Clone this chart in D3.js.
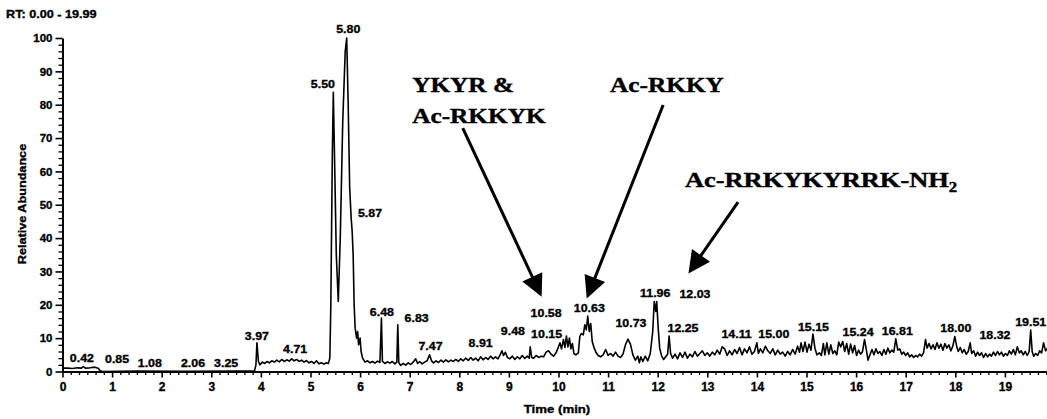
<!DOCTYPE html>
<html>
<head>
<meta charset="utf-8">
<script src="https://cdn.jsdelivr.net/npm/d3@7"></script>
<style>
  body { margin: 0; background: #fff; }
  svg { display: block; }
  .sans { font-family: "Liberation Sans", Arial, sans-serif; font-weight: bold; stroke: #000; stroke-width: 0.35px; }
  .serif { font-family: "Liberation Serif", "Times New Roman", serif; font-weight: bold; stroke: #000; stroke-width: 0.4px; }
</style>
</head>
<body>
<script>
// chromatogram trace: [time (min), relative abundance %]
const trace = [
  [0,1.0],[0.1,1.0],[0.2,0.9],[0.3,1.1],[0.38,1.0],[0.42,1.5],[0.46,1.0],[0.55,1.1],[0.65,1.3],[0.72,1.0],[0.76,0.2],[0.8,0],
  [1.5,0.1],[2.5,0.05],[3.5,0.1],[3.87,0.1],[3.9,2.0],[3.92,8.6],[3.95,3.0],[3.98,2.0],[4.03,2.8],[4.08,2.4],[4.12,3.0],
  [4.17,2.6],[4.22,3.2],[4.27,2.8],[4.32,3.4],[4.37,2.9],[4.42,3.6],[4.47,3.0],[4.52,3.5],[4.57,3.1],[4.62,3.8],[4.67,3.2],
  [4.72,3.6],[4.77,3.0],[4.82,3.4],[4.87,2.8],[4.92,3.3],[4.97,2.6],[5.02,3.0],[5.07,2.4],[5.12,3.2],[5.17,2.3],[5.22,2.6],
  [5.27,2.2],[5.32,2.6],[5.36,2.4],
  [5.39,4],[5.41,20],[5.44,65],[5.46,83.7],[5.49,60],[5.52,35],[5.56,21],[5.60,40],[5.65,75],[5.70,96],[5.73,100],[5.76,80],
  [5.79,55],[5.82,46],[5.84,42],[5.86,35],[5.88,20],[5.90,13],[5.93,10],[5.95,12],[5.97,8],[6.0,10],[6.02,6],[6.05,4],
  [6.10,2.8],[6.15,3.2],[6.20,2.6],[6.25,3.0],[6.30,2.5],[6.35,3.1],[6.40,2.7],[6.43,16.0],[6.45,3.0],[6.50,2.4],[6.55,2.9],
  [6.60,2.5],[6.65,3.0],[6.70,2.3],[6.74,2.8],[6.76,14.0],[6.78,2.6],[6.82,1.8],[6.87,2.4],[6.92,1.9],[6.97,2.6],[7.02,2.1],
  [7.07,2.8],[7.12,3.8],[7.16,2.4],[7.20,3.0],[7.25,2.3],[7.30,2.8],[7.35,3.2],[7.40,5.0],[7.44,3.2],[7.48,2.6],[7.53,3.2],
  [7.58,2.7],[7.63,3.4],[7.68,2.8],[7.73,3.5],[7.78,2.9],[7.83,3.4],[7.88,3.0],[7.93,3.6],[7.98,3.0],[8.03,3.8],[8.08,3.2],
  [8.13,4.0],[8.18,3.3],[8.23,4.2],[8.28,3.4],[8.33,4.0],[8.38,3.2],[8.43,4.4],[8.48,3.5],[8.53,4.2],[8.58,3.6],[8.63,4.6],
  [8.68,3.8],[8.73,4.4],[8.78,3.8],[8.83,5.2],[8.86,6.2],[8.89,4.8],[8.93,5.8],[8.97,4.2],[9.02,3.8],[9.07,4.6],[9.12,3.6],
  [9.17,4.4],[9.22,3.8],[9.27,4.8],[9.32,3.9],[9.37,4.6],[9.41,4.0],[9.43,7.4],[9.46,4.2],[9.50,4.0],[9.55,4.8],[9.60,4.2],
  [9.65,4.6],[9.70,4.4],[9.75,5.8],[9.80,6.2],[9.85,5.2],[9.90,4.6],[9.95,5.6],[10.00,7.4],[10.03,8.6],[10.06,6.8],[10.10,9.6],
  [10.13,7.2],[10.16,10.6],[10.19,7.4],[10.22,10.0],[10.25,6.8],[10.28,8.4],[10.31,5.4],[10.35,5.0],[10.40,5.6],[10.43,10.5],
  [10.46,11.4],[10.50,11.0],[10.53,14.0],[10.56,12.5],[10.59,16.6],[10.62,12.0],[10.65,14.4],[10.68,9.0],[10.72,7.0],
  [10.76,5.6],[10.80,4.8],[10.85,4.4],[10.90,5.0],[10.95,6.6],[11.00,4.8],[11.05,5.4],[11.10,4.6],[11.15,5.8],[11.20,4.6],
  [11.25,4.2],[11.30,5.2],[11.35,8.0],[11.40,9.7],[11.45,8.2],[11.50,5.0],[11.55,3.4],[11.60,4.6],[11.63,2.6],[11.66,4.4],
  [11.70,3.0],[11.75,4.6],[11.80,3.2],[11.85,5.4],[11.90,12.0],[11.93,21.0],[11.96,18.0],[11.98,21.0],[12.01,13.0],
  [12.04,7.0],[12.08,4.6],[12.12,3.6],[12.16,4.4],[12.20,5.2],[12.23,10.6],[12.26,5.4],
  [12.30,4.0],[12.35,5.2],[12.40,3.8],[12.45,5.6],[12.50,4.2],[12.55,5.8],[12.60,4.0],[12.65,5.2],[12.70,4.4],[12.75,6.0],
  [12.80,4.6],[12.85,5.4],[12.90,6.2],[12.95,4.8],[13.00,5.6],[13.05,4.6],[13.10,5.8],[13.15,5.0],[13.20,6.4],[13.25,5.2],
  [13.30,7.4],[13.35,6.8],[13.40,4.8],[13.45,6.2],[13.50,5.0],[13.55,6.6],[13.60,5.4],[13.65,7.2],[13.70,5.0],[13.75,6.8],
  [13.80,5.6],[13.85,7.4],[13.90,5.2],[13.95,6.0],[14.00,8.6],[14.03,5.4],[14.07,6.8],[14.12,5.6],[14.17,7.6],[14.22,6.2],
  [14.27,5.4],[14.32,6.8],[14.37,5.0],[14.42,6.4],[14.47,5.2],[14.52,5.8],[14.57,4.6],[14.62,6.0],[14.67,5.0],[14.72,6.6],
  [14.77,5.2],[14.82,7.6],[14.86,5.8],[14.89,8.6],[14.93,6.0],[14.97,8.8],[15.01,5.8],[15.05,8.2],[15.09,6.4],[15.13,11.2],
  [15.17,7.0],[15.21,5.0],[15.26,5.6],[15.30,4.8],[15.34,8.4],[15.37,5.0],[15.41,8.6],[15.45,5.2],[15.49,8.0],[15.53,5.4],
  [15.57,6.2],[15.61,5.0],[15.65,8.8],[15.69,7.4],[15.73,9.0],[15.77,6.0],[15.81,8.4],[15.85,5.2],[15.89,8.2],[15.93,5.6],
  [15.97,7.8],[16.01,4.8],[16.05,6.4],[16.09,5.2],[16.13,6.0],[16.17,9.6],[16.21,6.2],[16.24,3.4],[16.28,5.0],[16.32,6.6],
  [16.36,5.0],[16.40,6.8],[16.44,5.4],[16.48,6.0],[16.52,4.8],[16.56,6.6],[16.60,5.2],[16.64,7.0],[16.68,5.6],[16.72,6.4],
  [16.76,5.8],[16.80,9.8],[16.84,6.4],[16.88,6.8],[16.92,5.2],[16.96,5.8],[17.00,4.8],[17.04,5.6],[17.08,4.4],[17.12,5.0],
  [17.16,4.2],[17.20,4.8],[17.24,4.4],[17.28,5.2],[17.32,4.6],[17.36,5.6],[17.40,9.6],[17.43,7.0],[17.47,8.4],[17.51,6.8],
  [17.55,8.0],[17.59,6.6],[17.63,8.6],[17.67,7.0],[17.71,8.2],[17.75,6.4],[17.79,8.4],[17.83,7.0],[17.87,8.0],[17.91,6.2],
  [17.95,7.6],[17.99,10.5],[18.03,7.4],[18.06,6.0],[18.10,7.2],[18.14,5.6],[18.18,6.6],[18.22,5.2],[18.26,6.0],[18.30,8.6],
  [18.33,5.4],[18.37,6.2],[18.41,4.6],[18.45,5.8],[18.49,4.8],[18.53,5.6],[18.57,4.2],[18.61,5.4],[18.65,4.4],[18.69,5.2],
  [18.73,4.6],[18.77,5.8],[18.81,4.8],[18.85,6.0],[18.89,5.0],[18.93,5.8],[18.97,4.6],[19.01,5.4],[19.05,4.8],[19.09,6.2],
  [19.13,5.2],[19.17,6.6],[19.21,5.0],[19.25,7.4],[19.29,5.6],[19.33,6.2],[19.37,5.0],[19.41,6.0],[19.45,4.8],[19.49,6.0],
  [19.52,12.4],[19.55,6.0],[19.58,4.6],[19.62,5.4],[19.66,4.8],[19.70,6.2],[19.74,5.6],[19.78,8.6],[19.82,6.2],[19.86,7.0],
  [19.90,5.4],[19.95,6.4],[19.99,5.8]
];

// peak labels: text, where the label sits (min, %)
const peakText = ['0.42','0.85','1.08','2.06','3.25','3.97','4.71','5.50','5.80','5.87','6.48','6.83','7.47','8.91','9.48',
  '10.15','10.58','10.63','10.73','11.96','12.03','12.25','14.11','15.00','15.15','15.24','16.81','18.00','18.32','19.51'];
const peakRt = [0.39,1.10,1.76,2.63,3.30,3.92,4.69,5.25,5.76,6.20,6.44,7.14,7.42,8.43,9.08,
  9.76,9.75,10.62,11.46,11.95,12.75,12.51,13.59,14.34,15.14,16.04,16.83,18.01,18.80,19.52];
const peakPct = [2.9,2.5,1.4,1.4,1.4,9.4,5.5,85,101.5,46.4,16.6,14.9,6.4,7.4,10.9,
  10.0,16.4,17.9,13.2,22.2,21.9,11.9,10.0,10.0,12.2,10.6,10.9,11.9,9.7,13.6];

// axis ticks
const xTickLabels = [0,1,2,3,4,5,6,7,8,9,10,11,12,13,14,15,16,17,18,19];
const yTickLabels = [0,10,20,30,40,50,60,70,80,90,100];

// compound annotations and their arrows (min, %)
const noteText = ['YKYR &', 'Ac-RKKYK', 'Ac-RKKY', 'Ac-RRKYKYRRK-NH'];
const noteRt = [7.05, 7.05, 11.04, 12.55];
const notePct = [83.8, 74.6, 83.8, 55.3];
const arrowFrom = [[8.07,73.0],[12.11,79.9],[13.62,50.8]];
const arrowTo = [[9.66,22.4],[10.57,21.9],[12.62,29.4]];

const W = 1047, H = 419;
const svg = d3.select('body').append('svg').attr('width', W).attr('height', H);

const x = d3.scaleLinear().domain([0, 20]).range([62.5, 1054.5]);
const y = d3.scaleLinear().domain([0, 100]).range([371.5, 38]);

// trace
svg.append('path')
  .datum(trace)
  .attr('fill', 'none')
  .attr('stroke', '#000')
  .attr('stroke-width', 1.6)
  .attr('stroke-linejoin', 'round')
  .attr('d', d3.line().x(d => x(d[0])).y(d => y(d[1])));

// x axis
const xMinor = d3.range(0, 120).map(i => i / 6).filter(v => v % 1 !== 0);
svg.append('g').attr('transform', `translate(0,${y(0)})`)
  .call(d3.axisBottom(x).tickValues(xMinor).tickSize(3.5).tickSizeOuter(0).tickFormat(''))
  .call(g => g.selectAll('line,path').attr('stroke', '#000').attr('stroke-width', 1.3));
const xAxisG = svg.append('g').attr('transform', `translate(0,${y(0)})`)
  .call(d3.axisBottom(x).tickValues(xTickLabels).tickSize(6).tickSizeOuter(0).tickPadding(5).tickFormat(d3.format('d')));
xAxisG.select('.domain').attr('stroke', '#000').attr('stroke-width', 2);
xAxisG.selectAll('.tick line').attr('stroke', '#000').attr('stroke-width', 1.6);
xAxisG.selectAll('text').attr('class', 'sans').attr('font-size', 12).attr('fill', '#000');

// y axis
const yMinor = d3.range(0, 101, 2).filter(v => v % 10 !== 0);
svg.append('g').attr('transform', `translate(${x(0)},0)`)
  .call(d3.axisLeft(y).tickValues(yMinor).tickSize(4).tickSizeOuter(0).tickFormat(''))
  .call(g => g.selectAll('line').attr('stroke', '#000').attr('stroke-width', 1.3))
  .call(g => g.select('.domain').remove());
const yAxisG = svg.append('g').attr('transform', `translate(${x(0)},0)`)
  .call(d3.axisLeft(y).tickValues(yTickLabels).tickSize(7).tickSizeOuter(0).tickPadding(3));
yAxisG.select('.domain').attr('stroke', '#000').attr('stroke-width', 2);
yAxisG.selectAll('.tick line').attr('stroke', '#000').attr('stroke-width', 1.6);
yAxisG.selectAll('text').attr('class', 'sans').attr('font-size', 11.5).attr('fill', '#000');

// titles
svg.append('text').attr('class', 'sans').attr('font-size', 11)
  .attr('transform', 'translate(6,18) scale(1.15,1)').text('RT: 0.00 - 19.99');
svg.append('text').attr('class', 'sans').attr('font-size', 11).attr('text-anchor', 'middle')
  .attr('transform', 'translate(26,204) rotate(-90) scale(1.15,1)').text('Relative Abundance');
svg.append('text').attr('class', 'sans').attr('font-size', 11.5).attr('text-anchor', 'middle')
  .attr('transform', 'translate(557,413) scale(1.15,1)').text('Time (min)');

// peak labels
svg.append('g').selectAll('text').data(peakText).enter()
  .append('text')
  .attr('class', 'sans')
  .attr('font-size', 11.5)
  .attr('text-anchor', 'middle')
  .attr('transform', (d, i) => `translate(${x(peakRt[i])},${y(peakPct[i])}) scale(1.08,1)`)
  .text(d => d);

// annotations
const notes = svg.append('g').selectAll('text').data(noteText).enter()
  .append('text')
  .attr('class', 'serif')
  .attr('font-size', 22)
  .attr('transform', (d, i) => `translate(${x(noteRt[i])},${y(notePct[i])}) scale(${i === 3 ? 1.2 : 1.15},1)`)
  .text(d => d);
notes.filter((d, i) => i === 3).append('tspan').attr('font-size', 14).attr('dy', 5).text('2');

// arrows
const headLen = 22, headHalf = 11;
arrowFrom.forEach((f, i) => {
  const x0 = x(f[0]), y0 = y(f[1]);
  const x1 = x(arrowTo[i][0]), y1 = y(arrowTo[i][1]);
  const len = Math.hypot(x1 - x0, y1 - y0);
  const ux = (x1 - x0) / len, uy = (y1 - y0) / len;
  const bx = x1 - ux * headLen, by = y1 - uy * headLen;
  svg.append('line')
    .attr('x1', x0).attr('y1', y0).attr('x2', bx + ux * 2).attr('y2', by + uy * 2)
    .attr('stroke', '#000').attr('stroke-width', 3);
  svg.append('path')
    .attr('d', `M${x1},${y1}L${bx - uy * headHalf},${by + ux * headHalf}L${bx + uy * headHalf},${by - ux * headHalf}Z`)
    .attr('fill', '#000');
});
</script>
</body>
</html>
